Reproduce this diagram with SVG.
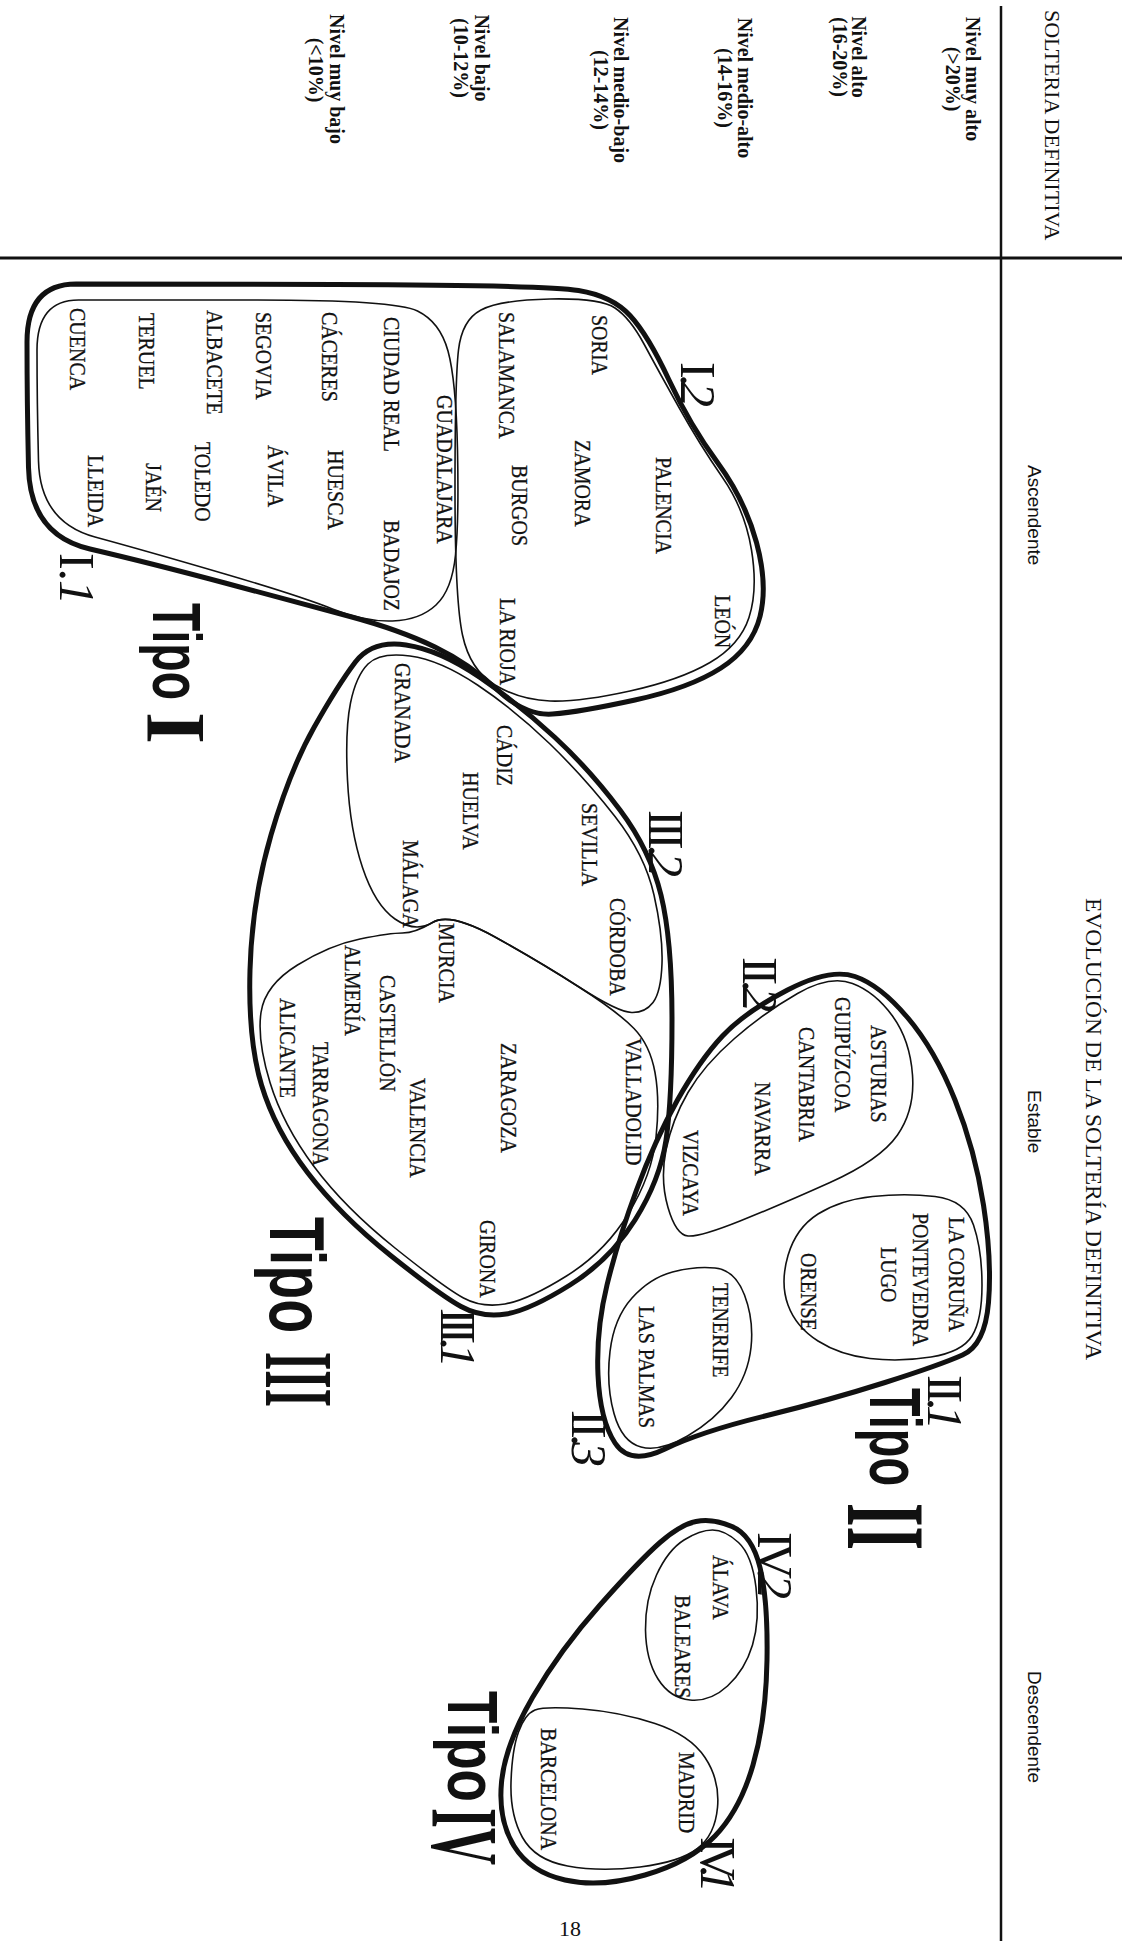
<svg xmlns="http://www.w3.org/2000/svg" width="1127" height="1941" viewBox="0 0 1127 1941">
<style>
.thick{fill:none;stroke:#111;stroke-width:5;stroke-linejoin:round}
.thin{fill:none;stroke:#111;stroke-width:1.6}
.axis{stroke:#111;fill:none}
.city{font-family:"Liberation Serif",serif;font-size:20px;fill:#111;stroke:#111;stroke-width:0.25}
.lvl{font-family:"Liberation Serif",serif;font-weight:bold;font-size:20px;text-anchor:middle;fill:#111}
.head{font-family:"Liberation Serif",serif;fill:#111}
.trend{font-family:"Liberation Sans",sans-serif;font-size:19px;fill:#111}
.tipo{font-family:"Liberation Sans",sans-serif;font-weight:bold;fill:#111}
.num{font-family:"Liberation Serif",serif;font-weight:bold;fill:#111}
.sub{font-family:"Liberation Serif",serif;font-size:50px;fill:#111}
.sub tspan{font-style:italic}
</style>
<rect width="1127" height="1941" fill="#fff"/>

<g id="connectors">
<line class="axis" x1="0" y1="258" x2="1122" y2="258" stroke-width="3"/>
<line class="axis" x1="1001" y1="6" x2="1001" y2="1941" stroke-width="2.5"/>
</g>

<g id="header">
<text class="head" font-size="22" transform="translate(1045,10)rotate(90)">SOLTERIA DEFINITIVA</text>
<text class="head" font-size="23.5" transform="translate(1086,898)rotate(90)">EVOLUCIÓN DE LA SOLTERÍA DEFINITIVA</text>
<text class="trend" transform="translate(1028,465)rotate(90)">Ascendente</text>
<text class="trend" transform="translate(1028,1090)rotate(90)">Estable</text>
<text class="trend" transform="translate(1028,1671)rotate(90)">Descendente</text>
</g>

<g id="levels">
<text class="lvl" transform="translate(966,79)rotate(90)">Nivel muy alto</text>
<text class="lvl" transform="translate(946,79)rotate(90)">(&gt;20%)</text>
<text class="lvl" transform="translate(852,57)rotate(90)">Nivel alto</text>
<text class="lvl" transform="translate(833,57)rotate(90)">(16-20%)</text>
<text class="lvl" transform="translate(738,88)rotate(90)">Nivel medio-alto</text>
<text class="lvl" transform="translate(718,88)rotate(90)">(14-16%)</text>
<text class="lvl" transform="translate(614,90)rotate(90)">Nivel medio-bajo</text>
<text class="lvl" transform="translate(594,90)rotate(90)">(12-14%)</text>
<text class="lvl" transform="translate(475,58)rotate(90)">Nivel bajo</text>
<text class="lvl" transform="translate(454,58)rotate(90)">(10-12%)</text>
<text class="lvl" transform="translate(330,79)rotate(90)">Nivel muy bajo</text>
<text class="lvl" transform="translate(309,70)rotate(90)">(&lt;10%)</text>
</g>

<g id="tipo-I">
<path class="thick" d="M 76,284 Q 125,284 335,284.5 Q 545,285 578.5,290.5 Q 612,296 630,315.5 Q 648,335 669,380 Q 690,425 717.5,462.5 Q 745,500 756.5,542.5 Q 768,585 760,616.5 Q 752,648 721,668 Q 690,688 635,700 Q 580,712 552.5,714 Q 525,716 497.5,690 Q 470,664 435,647 Q 400,630 350,616.5 Q 300,603 225,583 Q 150,563 90,549 Q 30,535 28.5,467.5 Q 27,400 27,342 Q 27,284 76,284 Z"/>
<g id="I-1">
<path class="thin" d="M 78.5,300 Q 120,300 257.5,300 Q 395,300 417.5,311 Q 440,322 448,351 Q 456,380 457.5,450 Q 459,520 455.5,555 Q 452,590 436,605 Q 420,620 392.5,621 Q 365,622 332.5,609 Q 300,596 225,574 Q 150,552 95,537 Q 40,522 38.5,461 Q 37,400 37,350 Q 37,300 78.5,300 Z"/>
<text class="city" transform="translate(437,395)rotate(90)scale(1,1.2)">GUADALAJARA</text>
<text class="city" transform="translate(384,317)rotate(90)scale(1,1.2)">CIUDAD REAL</text>
<text class="city" transform="translate(384,520)rotate(90)scale(1,1.2)">BADAJOZ</text>
<text class="city" transform="translate(322,312)rotate(90)scale(1,1.2)">CÁCERES</text>
<text class="city" transform="translate(328,450)rotate(90)scale(1,1.2)">HUESCA</text>
<text class="city" transform="translate(256,312)rotate(90)scale(1,1.2)">SEGOVIA</text>
<text class="city" transform="translate(268,445)rotate(90)scale(1,1.2)">ÁVILA</text>
<text class="city" transform="translate(207,310)rotate(90)scale(1,1.2)">ALBACETE</text>
<text class="city" transform="translate(195,442)rotate(90)scale(1,1.2)">TOLEDO</text>
<text class="city" transform="translate(139,313)rotate(90)scale(1,1.2)">TERUEL</text>
<text class="city" transform="translate(146,463)rotate(90)scale(1,1.2)">JAÉN</text>
<text class="city" transform="translate(70,308)rotate(90)scale(1,1.2)">CUENCA</text>
<text class="city" transform="translate(88,455)rotate(90)scale(1,1.2)">LLEIDA</text>
<text class="sub" textLength="52" transform="translate(60,553)rotate(90)">I.<tspan>1</tspan></text>
</g>
<g id="I-2">
<path class="thin" d="M 550,299 Q 600,298 615,308 Q 630,318 644,344 Q 658,370 679,407.5 Q 700,445 722.5,477.5 Q 745,510 751.5,550 Q 758,590 749,617.5 Q 740,645 710,662.5 Q 680,680 630,691 Q 580,702 550,701 Q 520,700 495,685 Q 470,670 462.5,635 Q 455,600 455,490 Q 455,380 458.5,350 Q 462,320 481,310 Q 500,300 550,299 Z"/>
<text class="city" transform="translate(592,315)rotate(90)scale(1,1.2)">SORIA</text>
<text class="city" transform="translate(656,457)rotate(90)scale(1,1.2)">PALENCIA</text>
<text class="city" transform="translate(715,595)rotate(90)scale(1,1.2)">LEÓN</text>
<text class="city" transform="translate(499,312)rotate(90)scale(1,1.2)">SALAMANCA</text>
<text class="city" transform="translate(575,440)rotate(90)scale(1,1.2)">ZAMORA</text>
<text class="city" transform="translate(512,465)rotate(90)scale(1,1.2)">BURGOS</text>
<text class="city" transform="translate(500,598)rotate(90)scale(1,1.2)">LA RIOJA</text>
<text class="sub" textLength="45" transform="translate(681,362)rotate(90)">I.<tspan>2</tspan></text>
</g>
<g id="tipo-I-label">
<text class="tipo" font-size="68" textLength="97" lengthAdjust="spacingAndGlyphs" transform="translate(153,603)rotate(90)">Tipo</text>
<text class="num" font-size="85" textLength="32" lengthAdjust="spacingAndGlyphs" transform="translate(147,712)rotate(90)">I</text>
</g>
</g>

<g id="tipo-III">
<path class="thick" d="M 406,645 Q 440,650 480,677.5 Q 520,705 555,737.5 Q 590,770 620,810 Q 650,850 661,895 Q 672,940 672,1020 Q 672,1100 666,1140 Q 660,1180 635,1220 Q 610,1260 570,1285 Q 530,1310 506,1314 Q 482,1318 461,1306.5 Q 440,1295 390,1255 Q 340,1215 307.5,1172.5 Q 275,1130 261.5,1085 Q 248,1040 250,970 Q 252,900 271,835 Q 290,770 314,727.5 Q 338,685 355,662.5 Q 372,640 406,645 Z"/>
<g id="III-2">
<path class="thin" d="M 410,656 Q 440,660 477.5,685 Q 515,710 550,744 Q 585,778 615,816.5 Q 645,855 654,895 Q 663,935 662,963.5 Q 661,992 653,1002.5 Q 645,1013 631.5,1012.5 Q 618,1012 579,987 Q 540,962 495,937 Q 450,912 432.5,922.5 Q 415,933 395,919 Q 375,905 362.5,867.5 Q 350,830 347.5,780 Q 345,730 350.5,703 Q 356,676 368,664 Q 380,652 410,656 Z"/>
<text class="city" transform="translate(395,663)rotate(90)scale(1,1.2)">GRANADA</text>
<text class="city" transform="translate(497,725)rotate(90)scale(1,1.2)">CÁDIZ</text>
<text class="city" transform="translate(463,772)rotate(90)scale(1,1.2)">HUELVA</text>
<text class="city" transform="translate(582,803)rotate(90)scale(1,1.2)">SEVILLA</text>
<text class="city" transform="translate(403,840)rotate(90)scale(1,1.2)">MÁLAGA</text>
<text class="city" transform="translate(610,898)rotate(90)scale(1,1.2)">CÓRDOBA</text>
<text class="sub" textLength="67" transform="translate(649,810)rotate(90)">III.<tspan>2</tspan></text>
</g>
<g id="III-1">
<path class="thin" d="M 432.5,922.5 Q 450,912 495,937 Q 540,962 579,987 Q 618,1012 634,1028.5 Q 650,1045 655,1072.5 Q 660,1100 656,1137.5 Q 652,1175 628.5,1213.5 Q 605,1252 566.5,1276 Q 528,1300 505,1304 Q 482,1308 463.5,1298 Q 445,1288 395,1248 Q 345,1208 314,1166.5 Q 283,1125 270,1082.5 Q 257,1040 261,1012.5 Q 265,985 297.5,965 Q 330,945 360,939 Q 390,933 402.5,933 Q 415,933 432.5,922.5 Z"/>
<text class="city" transform="translate(439,923)rotate(90)scale(1,1.2)">MURCIA</text>
<text class="city" transform="translate(345,945)rotate(90)scale(1,1.2)">ALMERÍA</text>
<text class="city" transform="translate(380,975)rotate(90)scale(1,1.2)">CASTELLÓN</text>
<text class="city" transform="translate(626,1038)rotate(90)scale(1,1.2)">VALLADOLID</text>
<text class="city" transform="translate(501,1043)rotate(90)scale(1,1.2)">ZARAGOZA</text>
<text class="city" transform="translate(410,1078)rotate(90)scale(1,1.2)">VALENCIA</text>
<text class="city" transform="translate(313,1042)rotate(90)scale(1,1.2)">TARRAGONA</text>
<text class="city" transform="translate(280,998)rotate(90)scale(1,1.2)">ALICANTE</text>
<text class="city" transform="translate(480,1220)rotate(90)scale(1,1.2)">GIRONA</text>
<text class="sub" textLength="60" transform="translate(441,1308)rotate(90)">III.<tspan>1</tspan></text>
</g>
<g id="tipo-III-label">
<text class="tipo" font-size="78" textLength="116" lengthAdjust="spacingAndGlyphs" transform="translate(270,1217)rotate(90)">Tipo</text>
<text class="num" font-size="97" textLength="55" lengthAdjust="spacingAndGlyphs" transform="translate(266,1352)rotate(90)">III</text>
</g>
</g>

<g id="tipo-II">
<path class="thick" d="M 787.5,990 Q 830,968 855,976.5 Q 880,985 907.5,1017.5 Q 935,1050 955,1100 Q 975,1150 983.5,1205 Q 992,1260 988.5,1302.5 Q 985,1345 962.5,1355 Q 940,1365 885,1382.5 Q 830,1400 765,1416 Q 700,1432 665,1449 Q 630,1466 615,1443 Q 600,1420 598,1375 Q 596,1330 607,1285 Q 618,1240 636.5,1190 Q 655,1140 677.5,1100 Q 700,1060 722.5,1036 Q 745,1012 787.5,990 Z"/>
<g id="II-2">
<path class="thin" d="M 668,1207.5 Q 660,1180 666,1150 Q 672,1120 688,1092.5 Q 704,1065 734.5,1038.5 Q 765,1012 797.5,993.5 Q 830,975 852.5,983.5 Q 875,992 892.5,1016 Q 910,1040 912.5,1075 Q 915,1110 897.5,1135 Q 880,1160 830,1182.5 Q 780,1205 740,1221 Q 700,1237 688,1236 Q 676,1235 668,1207.5 Z"/>
<text class="city" transform="translate(871,1025)rotate(90)scale(1,1.2)">ASTURIAS</text>
<text class="city" transform="translate(835,997)rotate(90)scale(1,1.2)">GUIPÚZCOA</text>
<text class="city" transform="translate(799,1027)rotate(90)scale(1,1.2)">CANTABRIA</text>
<text class="city" transform="translate(755,1082)rotate(90)scale(1,1.2)">NAVARRA</text>
<text class="city" transform="translate(683,1130)rotate(90)scale(1,1.2)">VIZCAYA</text>
<text class="sub" textLength="55" transform="translate(743,957)rotate(90)">II.<tspan>2</tspan></text>
</g>
<g id="II-1">
<path class="thin" d="M 973.5,1225 Q 982,1250 982,1285 Q 982,1320 972,1336 Q 962,1352 931,1357 Q 900,1362 870,1358.5 Q 840,1355 818,1341 Q 796,1327 788,1305 Q 780,1283 788,1255.5 Q 796,1228 818,1214 Q 840,1200 872.5,1196.5 Q 905,1193 935,1196.5 Q 965,1200 973.5,1225 Z"/>
<text class="city" transform="translate(949,1217)rotate(90)scale(1,1.2)">LA CORUÑA</text>
<text class="city" transform="translate(913,1213)rotate(90)scale(1,1.2)">PONTEVEDRA</text>
<text class="city" transform="translate(881,1247)rotate(90)scale(1,1.2)">LUGO</text>
<text class="city" transform="translate(801,1253)rotate(90)scale(1,1.2)">ORENSE</text>
<text class="sub" textLength="55" transform="translate(928,1375)rotate(90)">II.<tspan>1</tspan></text>
</g>
<g id="II-3">
<path class="thin" d="M 744.5,1295 Q 754,1320 751,1347.5 Q 748,1375 731.5,1397.5 Q 715,1420 687.5,1436 Q 660,1452 641,1447 Q 622,1442 614,1413.5 Q 606,1385 610,1351.5 Q 614,1318 632,1298 Q 650,1278 672.5,1272 Q 695,1266 715,1268 Q 735,1270 744.5,1295 Z"/>
<text class="city" transform="translate(713,1283)rotate(90)scale(1,1.2)">TENERIFE</text>
<text class="city" transform="translate(639,1306)rotate(90)scale(1,1.2)">LAS  PALMAS</text>
<text class="sub" textLength="57" transform="translate(572,1410)rotate(90)">II.<tspan>3</tspan></text>
</g>
<g id="tipo-II-label">
<text class="tipo" font-size="73" textLength="98" lengthAdjust="spacingAndGlyphs" transform="translate(870,1388)rotate(90)">Tipo</text>
<text class="num" font-size="112" textLength="47" lengthAdjust="spacingAndGlyphs" transform="translate(848,1503)rotate(90)">II</text>
</g>
</g>

<g id="tipo-IV">
<path class="thick" d="M 732,1526.5 Q 752,1535 760,1567.5 Q 768,1600 767,1660 Q 766,1720 753,1765 Q 740,1810 715,1836 Q 690,1862 645,1875 Q 600,1888 565,1880 Q 530,1872 514,1846 Q 498,1820 501.5,1782.5 Q 505,1745 532.5,1697.5 Q 560,1650 600,1605 Q 640,1560 660,1542.5 Q 680,1525 696,1521.5 Q 712,1518 732,1526.5 Z"/>
<g id="IV-2">
<path class="thin" d="M 738.5,1542.5 Q 752,1555 756,1587.5 Q 760,1620 752.5,1645 Q 745,1670 727.5,1686 Q 710,1702 690,1700 Q 670,1698 658,1679 Q 646,1660 645.5,1630 Q 645,1600 656.5,1575 Q 668,1550 684,1540 Q 700,1530 712.5,1530 Q 725,1530 738.5,1542.5 Z"/>
<text class="city" transform="translate(713,1555)rotate(90)scale(1,1.2)">ÁLAVA</text>
<text class="city" transform="translate(675,1595)rotate(90)scale(1,1.2)">BALEARES</text>
<text class="sub" textLength="67" transform="translate(758,1532)rotate(90)">IV.<tspan>2</tspan></text>
</g>
<g id="IV-1">
<path class="thin" d="M 582.5,1709 Q 620,1712 655,1723.5 Q 690,1735 705,1757.5 Q 720,1780 717.5,1807.5 Q 715,1835 697.5,1848.5 Q 680,1862 640,1867 Q 600,1872 567.5,1866 Q 535,1860 522.5,1837.5 Q 510,1815 511,1782.5 Q 512,1750 518.5,1732 Q 525,1714 535,1710 Q 545,1706 582.5,1709 Z"/>
<text class="city" transform="translate(679,1752)rotate(90)scale(1,1.2)">MADRID</text>
<text class="city" transform="translate(541,1728)rotate(90)scale(1,1.2)">BARCELONA</text>
<text class="sub" textLength="56" transform="translate(701,1837)rotate(90)">IV.<tspan>1</tspan></text>
</g>
<g id="tipo-IV-label">
<text class="tipo" font-size="70" textLength="111" lengthAdjust="spacingAndGlyphs" transform="translate(448,1691)rotate(90)">Tipo</text>
<text class="num" font-size="95" textLength="57" lengthAdjust="spacingAndGlyphs" transform="translate(432,1808)rotate(90)">IV</text>
</g>
</g>

<g id="page-number">
<text class="head" font-size="22" x="559" y="1936">18</text>
</g>
</svg>
